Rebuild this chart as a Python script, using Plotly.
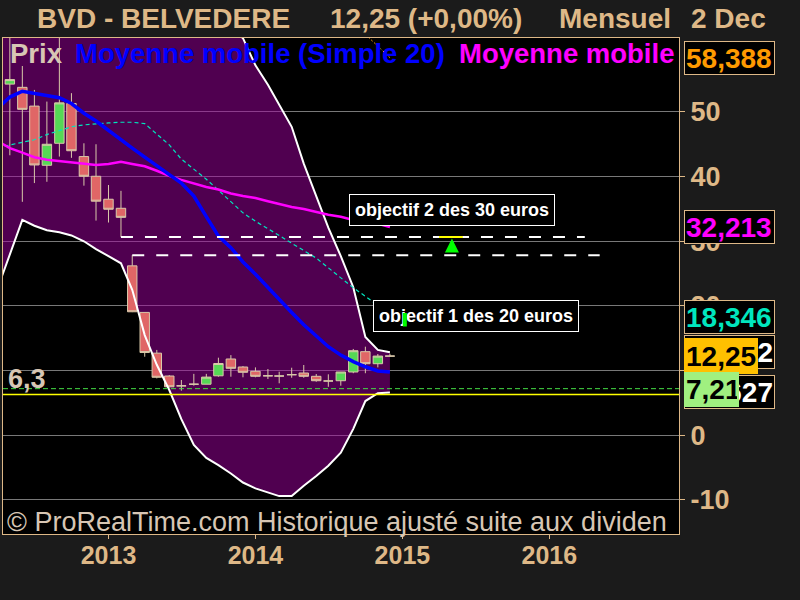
import plotly.graph_objects as go

# ---------------- data ----------------
months = ["2012-05-01", "2012-06-01", "2012-07-01", "2012-08-01", "2012-09-01", "2012-10-01",
          "2012-11-01", "2012-12-01", "2013-01-01", "2013-02-01", "2013-03-01", "2013-04-01",
          "2013-05-01", "2013-06-01", "2013-07-01", "2013-08-01", "2013-09-01", "2013-10-01",
          "2013-11-01", "2013-12-01", "2014-01-01", "2014-02-01", "2014-03-01", "2014-04-01",
          "2014-05-01", "2014-06-01", "2014-07-01", "2014-08-01", "2014-09-01", "2014-10-01",
          "2014-11-01", "2014-12-01"]
opens = [54.3, 53.8, 50.9, 41.75, 45.15, 51.3, 43.1, 40.05, 36.5, 35.1, 26.2, 19.0,
         12.7, 9.17, 7.65, 7.9, 7.9, 9.2, 11.8, 10.56, 9.9, 9.2, 9.17, 9.37,
         9.63, 9.12, 8.4, 8.44, 9.79, 12.93, 11.07, 12.25]
highs = [62.5, 57.1, 53.4, 51.6, 63.0, 52.9, 45.15, 45.0, 38.7, 37.8, 27.85, 19.0,
         13.2, 9.3, 8.55, 9.5, 9.5, 12.0, 12.4, 10.7, 10.5, 10.25, 9.83, 10.45,
         10.87, 9.48, 9.43, 9.79, 13.35, 13.7, 12.57, 12.6]
lows = [43.3, 36.1, 39.0, 39.2, 43.1, 42.9, 38.6, 33.2, 32.9, 30.65, 19.05, 12.15,
        8.8, 7.4, 6.9, 7.67, 7.9, 9.06, 9.06, 8.97, 8.97, 8.7, 8.04, 8.9,
        8.9, 8.29, 7.5, 7.67, 9.6, 9.6, 10.5, 12.2]
closes = [55.0, 50.4, 41.8, 45.0, 51.4, 44.0, 40.05, 36.2, 34.95, 33.7, 19.1, 12.8,
          8.97, 7.5, 7.65, 7.9, 9.0, 11.1, 10.36, 9.74, 9.12, 9.2, 9.17, 9.37,
          9.12, 8.44, 8.4, 9.79, 13.08, 11.07, 12.25, 12.25]

band_dates = ["2012-04-01"] + months
upper_band = [66.0, 67.0, 68.0, 68.5, 69.0, 69.5, 70.0, 70.0, 69.5,
              69.0, 68.5, 68.0, 67.5, 67.0, 66.5, 66.0, 65.5, 65.0, 64.2, 63.0, 61.4,
              57.2, 54.2, 51.2, 47.7, 42.0, 36.9, 32.1, 27.7, 22.9, 15.2, 13.2, 12.84]
lower_band = [22.8, 28.0, 33.3, 32.4, 31.7, 31.4, 30.9, 30.0, 28.8,
              27.7, 26.6, 22.5, 15.5, 10.9, 7.0, 2.5, -1.5, -3.5, -4.6, -5.9, -7.3,
              -8.2, -8.8, -9.4, -9.4, -7.8, -6.3, -4.7, -2.7, 1.0, 5.3, 6.5, 6.63]
sma20 = [50.6, 52.3, 53.2, 52.9, 52.6, 52.2, 51.3, 49.8, 48.6,
         47.1, 45.7, 44.4, 43.0, 41.6, 40.3, 39.0, 37.0, 33.8, 30.8, 29.0, 26.8,
         24.9, 22.8, 20.9, 19.0, 17.1, 15.4, 13.7, 12.4, 11.4, 10.6, 9.95, 9.8]
ma_magenta = [45.5, 44.4, 43.7, 43.0, 42.6, 42.4, 42.1, 42.0, 41.8,
              41.95, 42.3, 41.95, 41.6, 40.9, 40.1, 39.5, 38.9, 38.4, 38.0, 37.4, 37.0,
              36.7, 36.2, 35.8, 35.3, 35.0, 34.5, 34.1, 33.8, 33.3, 33.0, 32.7, 32.213]
ma_cyan = [44.5, 44.9, 45.2, 45.7, 46.5, 47.1, 47.7, 48.0, 48.2,
           48.3, 48.4, 48.4, 48.2, 46.6, 44.9, 42.7, 41.2, 39.6, 37.9, 36.2, 34.4,
           33.1, 32.0, 30.9, 29.7, 28.6, 27.4, 25.9, 24.3, 22.8, 21.5, 20.1, 18.346]
orange_dates = ["2014-10-01", "2014-11-01", "2014-12-01"]
orange_vals = [62.0, 60.2, 58.388]

support_levels = [30.65, 27.85]
support_start = ["2013-02-01", "2013-03-01"]
support_end = ["2016-03-29", "2016-05-05"]

target_levels = [30.66, 20.0]
target_start = ["2015-04-02", "2015-01-02"]
target_end = ["2015-05-31", "2015-03-03"]
target_arrow_x = ["2015-05-04", "2015-01-07"]
target_labels = ["objectif 2 des 30 euros", "objectif 1 des 20 euros"]

yellow_level = 6.3
green_level = 7.21

ytick_vals = [50, 40, 30, 20, 10, 0, -10]
ytick_text = ["50", "40", "30", "20", "10", "0", "-10"]
xtick_vals = ["2013-01-01", "2014-01-01", "2015-01-01", "2016-01-01"]
xtick_text = ["2013", "2014", "2015", "2016"]

# ---------------- style ----------------
TAN = "#deb887"
LIGHT = "#d7c6b4"
FONT = "Liberation Sans"
L, R, T, B = 3, 121, 38, 66
W, H = 800, 600
PW, PH = W - L - R, H - T - B
XR = ["2012-04-14", "2016-11-18"]
YR = [-15.26, 61.43]


def px(x):
    return (x - L) / PW


def py(y):
    return (H - B - y) / PH


fig = go.Figure()

# Bollinger fill (bottom subplot layer)
fig.add_trace(go.Scatter(x=band_dates, y=lower_band, mode="lines", line=dict(width=0),
                         hoverinfo="skip"))
fig.add_trace(go.Scatter(x=band_dates, y=upper_band, mode="lines", line=dict(width=0),
                         fill="tonexty", fillcolor="rgba(160,0,160,0.5)", hoverinfo="skip"))

# candles (overlay subplot, above the fill)
fig.add_trace(go.Candlestick(
    x=months, open=opens, high=highs, low=lows, close=closes, xaxis="x2", yaxis="y2",
    increasing=dict(line=dict(color="#d9c9a9", width=1), fillcolor="#55d855"),
    decreasing=dict(line=dict(color="#d9c9a9", width=1), fillcolor="#e06666"),
    whiskerwidth=0))

# bands lines
for band in (upper_band, lower_band):
    fig.add_trace(go.Scatter(x=band_dates, y=band, mode="lines", xaxis="x2", yaxis="y2",
                             line=dict(color="white", width=2)))

fig.add_trace(go.Scatter(x=band_dates, y=ma_cyan, mode="lines", xaxis="x2", yaxis="y2",
                         line=dict(color="#00e6be", width=1.2, dash="4px,3px")))
fig.add_trace(go.Scatter(x=band_dates, y=ma_magenta, mode="lines", xaxis="x2", yaxis="y2",
                         line=dict(color="#ff00ff", width=2.5)))
fig.add_trace(go.Scatter(x=band_dates, y=sma20, mode="lines", xaxis="x2", yaxis="y2",
                         line=dict(color="#0000ff", width=3.5)))
fig.add_trace(go.Scatter(x=orange_dates, y=orange_vals, mode="lines", xaxis="x2", yaxis="y2",
                         line=dict(color="#ff9a00", width=1, dash="2px,2px")))

# support dashed lines
for lvl, s, e in zip(support_levels, support_start, support_end):
    fig.add_trace(go.Scatter(x=[s, e], y=[lvl, lvl], mode="lines", xaxis="x2", yaxis="y2",
                             line=dict(color="white", width=2, dash="12px,12px")))

# target yellow marks
for lvl, s, e in zip(target_levels, target_start, target_end):
    fig.add_trace(go.Scatter(x=[s, e], y=[lvl, lvl], mode="lines", xaxis="x2", yaxis="y2",
                             line=dict(color="#ffff00", width=2)))

shapes = [
    dict(type="line", xref="paper", yref="y", x0=0, x1=1, y0=yellow_level, y1=yellow_level,
         line=dict(color="#ffff00", width=1.5), layer="above"),
    dict(type="line", xref="paper", yref="y", x0=0, x1=1, y0=green_level, y1=green_level,
         line=dict(color="#44dd44", width=1, dash="5px,3px"), layer="above"),
]

ann = []


def text(x, y, s, size, color, anchor="left", weight="bold", yref="paper", **kw):
    ann.append(dict(x=x, y=y, xref="paper", yref=yref, text=s, showarrow=False,
                    xanchor=anchor, yanchor="middle",
                    font=dict(family=FONT, size=size, color=color, weight=weight), **kw))


# header
text(px(35), py(18), "BVD - BELVEDERE", 28, TAN)
text(px(328), py(18), "12,25 (+0,00%)", 28, TAN)
text(px(557), py(18), "Mensuel", 28, TAN)
text(px(689), py(18), "2 Dec", 28, TAN)

# legend-like texts
text(px(8), py(53), "Prix", 27.5, LIGHT)
text(px(73), py(53), "Moyenne mobile (Simple 20)", 27.5, "#0000ff")
text(px(457), py(53), "Moyenne mobile", 27.5, "#ff00ff")

# copyright
text(px(5), py(522), "© ProRealTime.com Historique ajusté suite aux dividen", 27, LIGHT,
     weight="normal")

# 6,3 label
text(px(6), py(379), "6,3", 27, LIGHT)

# objective boxes
for lbl, xpix, ypix in [(target_labels[0], 349, 209.5), (target_labels[1], 373, 315.5)]:
    text(px(xpix), py(ypix), lbl, 18, "white", bgcolor="black", bordercolor="white",
         borderwidth=1, borderpad=5)

# green arrows
ann.append(dict(x=target_arrow_x[0], y=target_levels[0] - 0.25, xref="x", yref="y",
                text="", showarrow=True, ax=0, ay=15, arrowhead=2, arrowsize=0.7,
                arrowwidth=4, arrowcolor="#00ff00"))
ann.append(dict(x=target_arrow_x[1], y=target_levels[1] - 1.1, xref="x", yref="y",
                text="", showarrow=True, ax=0, ay=15, arrowhead=0,
                arrowwidth=4, arrowcolor="#00ff00"))


# right price boxes
def pbox(val, s, color, bg="black", border=TAN, width=87, height=30, align="left",
         size=28, xpix=684):
    ann.append(dict(x=px(xpix), y=val, xref="paper", yref="y", text=s, showarrow=False,
                    xanchor="left", yanchor="middle", align=align, width=width, height=height,
                    bgcolor=bg, bordercolor=border, borderwidth=1, borderpad=1,
                    font=dict(family=FONT, size=size, color=color, weight="bold")))


pbox(orange_vals[-1], "58,388", "#ff9a00")
pbox(ma_magenta[-1], "32,213", "#ff00ff")
pbox(ma_cyan[-1], "18,346", "#00e6be")
pbox(upper_band[-1], "12,842", "white", align="right")
pbox(closes[-1], "12,25", "black", bg="#ffc000", border="#ffc000", width=70, height=32)
pbox(lower_band[-1], "6,627", "white", align="right")
pbox(green_level - 0.05, "7,21", "black", bg="#a0f080", border="#a0f080", width=51, height=31)

fig.update_layout(
    width=W, height=H,
    margin=dict(l=L, r=R, t=T, b=B),
    paper_bgcolor="#1b1b1b", plot_bgcolor="black",
    showlegend=False,
    boxgap=0.12, boxgroupgap=0.05,
    shapes=shapes, annotations=ann,
    font=dict(family=FONT),
    xaxis=dict(type="date", range=XR, rangeslider=dict(visible=False), automargin=False,
               tickvals=xtick_vals, ticktext=xtick_text, ticks="outside", ticklen=4,
               ticklabelstandoff=-5,
               tickcolor=TAN, showgrid=False, showline=True, mirror=True, linecolor=TAN,
               linewidth=1, zeroline=False,
               tickfont=dict(family=FONT, size=25, color=TAN, weight="bold")),
    yaxis=dict(range=YR, side="right", tickvals=ytick_vals, ticktext=ytick_text,
               automargin=False,
               ticks="outside", ticklen=5, tickcolor=TAN, showgrid=True, gridcolor="#787878",
               gridwidth=1, showline=True, mirror=True, linecolor=TAN, linewidth=1,
               zeroline=False, tickfont=dict(family=FONT, size=27, color=TAN, weight="bold")),
    xaxis2=dict(type="date", range=XR, overlaying="x", visible=False,
                rangeslider=dict(visible=False)),
    yaxis2=dict(range=YR, overlaying="y", visible=False),
)

fig.write_html("out.html", config={"displayModeBar": False},
               post_script="document.body.style.margin='0';")
